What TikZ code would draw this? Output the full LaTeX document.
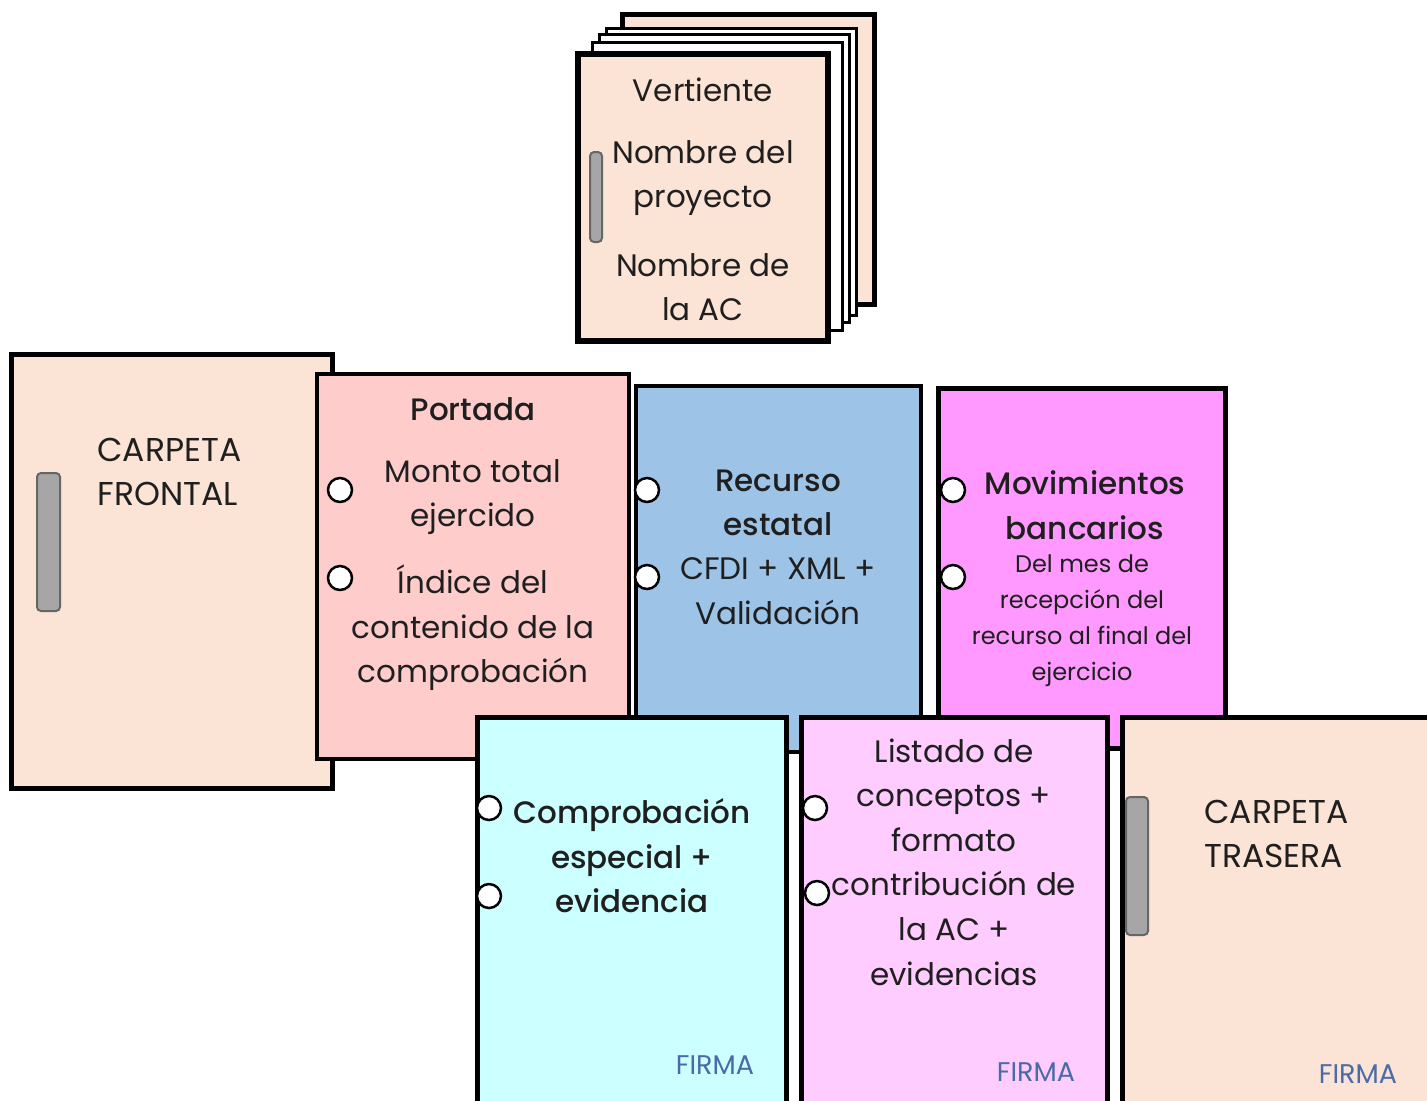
\documentclass[tikz,border=0pt]{standalone}
\usepackage{fontspec}
\setmainfont{Poppins}[BoldFont={Poppins Medium}]
\definecolor{peach}{HTML}{FBE3D5}
\definecolor{rosa}{HTML}{FFCCCC}
\definecolor{azul}{HTML}{9DC3E6}
\definecolor{magenta}{HTML}{FF99FF}
\definecolor{cian}{HTML}{CCFFFF}
\definecolor{lila}{HTML}{FFCCFF}
\definecolor{firmaazul}{HTML}{4A6AA8}
\definecolor{tabgris}{HTML}{A6A6A6}

\begin{document}
\begin{tikzpicture}[x=0.5pt,y=-0.5pt,
    sheet/.style={draw=black,line width=2.5pt},
    hoja/.style={draw=black,fill=white,line width=1.5pt},
    hole/.style={draw=black,fill=white,line width=1.25pt},
    tab/.style={draw=black!60,fill=tabgris,line width=1pt,rounded corners=2pt},
    txt/.style={align=center,inner sep=0pt,text=black!88,font=\fontsize{15.5}{22.3}\selectfont},
    head/.style={txt,font=\fontsize{15.5}{22.3}\selectfont\bfseries},
    small/.style={txt,font=\fontsize{12}{18}\selectfont},
    firma/.style={inner sep=0pt,text=firmaazul,font=\fontsize{13.5}{14}\selectfont}]
  \useasboundingbox (0,0) rectangle (1427,1100);
  \clip (0,0) rectangle (1427,1100);

  % pila de portadas
  \draw[sheet,fill=peach] (622,14) rectangle (874,304);
  \draw[hoja] (606,28) rectangle (856,315);
  \draw[hoja] (599,34) rectangle (849,322);
  \draw[hoja] (592,42) rectangle (842,330);
  \draw[sheet,line width=3pt,fill=peach] (578,54) rectangle (828,341);
  \draw[tab] (590,152) rectangle (602,242);
  \node[txt] (vertiente) at (703,90) {Vertiente};
  \node[txt] (proyecto) at (703,178) {Nombre del\\proyecto};
  \node[txt] (nombreac) at (703,287) {Nombre de\\la AC};

  % carpeta frontal
  \draw[sheet,fill=peach] (11,354) rectangle (332,788);
  \draw[tab] (37,473) rectangle (60,611);
  \node[txt,align=left,anchor=west,font=\fontsize{16.5}{22.3}\selectfont] (frontal) at (97,472) {CARPETA\\FRONTAL};

  % portada
  \draw[sheet,line width=1.8pt,fill=rosa] (317,374) rectangle (629,759);
  \draw[hole] (340,490) circle (12);
  \draw[hole] (340,578) circle (12);
  \node[head] (portada) at (473,409) {Portada};
  \node[txt] (monto) at (473,497) {Monto total\\ejercido};
  \node[txt] (indice) at (473,628) {Índice del\\contenido de la\\comprobación};

  % recurso estatal
  \draw[sheet,line width=2pt,fill=azul] (636,386) rectangle (921,752);
  \draw[hole] (647,490) circle (12);
  \draw[hole] (647,577) circle (12);
  \node[head] (recurso) at (778,503) {Recurso\\estatal};
  \node[txt] (cfdi) at (778,591) {CFDI + XML +\\Validación};

  % movimientos bancarios
  \draw[sheet,fill=magenta] (938,388) rectangle (1225,748);
  \draw[hole] (953,490) circle (12);
  \draw[hole] (953,577) circle (12);
  \node[head] (movimientos) at (1085,505) {Movimientos\\bancarios};
  \node[small] (mes) at (1082,621) {Del mes de\\recepción del\\recurso al final del\\ejercicio};

  % comprobacion especial
  \draw[sheet,fill=cian] (477,717) rectangle (786,1110);
  \draw[hole] (489,808) circle (12);
  \draw[hole] (489,896) circle (12);
  \node[head] (especial) at (632,856) {Comprobación\\especial +\\evidencia};
  \node[firma] (firma1) at (715,1065) {FIRMA};

  % listado de conceptos
  \draw[sheet,fill=lila] (801,717) rectangle (1107,1110);
  \draw[hole] (815,808) circle (12);
  \draw[hole] (817,893) circle (12);
  \node[txt] (listado) at (954,862) {Listado de\\conceptos +\\formato\\contribución de\\la AC +\\evidencias};
  \node[firma] (firma2) at (1036,1072) {FIRMA};

  % carpeta trasera
  \draw[sheet,fill=peach] (1122,717) rectangle (1440,1110);
  \draw[tab] (1126,797) rectangle (1148,935);
  \node[txt,align=left,anchor=west,font=\fontsize{16.5}{22.3}\selectfont] (trasera) at (1204,834) {CARPETA\\TRASERA};
  \node[firma] (firma3) at (1358,1074) {FIRMA};
\end{tikzpicture}
\end{document}
